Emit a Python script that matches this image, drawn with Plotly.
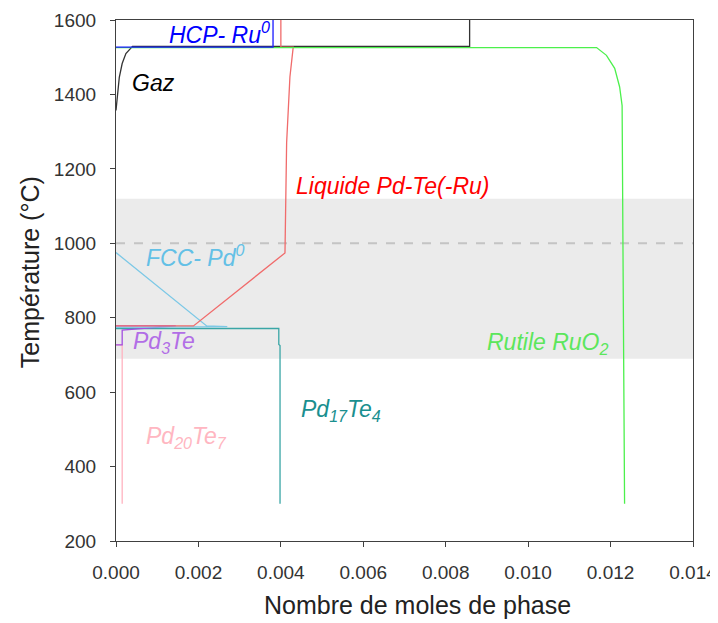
import plotly.graph_objects as go

# Phase amounts (mol) vs temperature (°C)
gaz_x = [0.0, 0.00003, 0.00008, 0.00015, 0.00024, 0.00040, 0.00858, 0.00858]
gaz_t = [1357, 1392, 1446, 1483, 1510, 1529, 1529, 1600]

hcp_x = [0.0, 0.00381, 0.00381]
hcp_t = [1527, 1527, 1600]

liq_x = [0.0, 0.00188, 0.00410, 0.00411, 0.00414, 0.00422, 0.00430, 0.00400, 0.00400]
liq_t = [778, 778, 974, 1100, 1270, 1447, 1527, 1527, 1600]

rut_x = [0.0, 0.01166, 0.01190, 0.01210, 0.01222, 0.01228, 0.01230, 0.01234]
rut_t = [1526, 1526, 1505, 1470, 1420, 1370, 1000, 300]

fcc_x = [0.0, 0.00220, 0.00270, 0.0]
fcc_t = [975, 778, 776, 774]

pd3te_x = [0.0, 0.00145, 0.00015, 0.00015, 0.0]
pd3te_t = [778, 778, 767, 727, 727]

pd17_x = [0.0, 0.00395, 0.00395, 0.00398, 0.00398]
pd17_t = [771, 771, 728, 725, 300]

pd20_x = [0.0, 0.00015, 0.00015]
pd20_t = [727, 727, 300]

x_ticks = [0.0, 0.002, 0.004, 0.006, 0.008, 0.010, 0.012, 0.014]
y_ticks = [200, 400, 600, 800, 1000, 1200, 1400, 1600]
band = [690, 1120]
ref_t = 1000

series = [
    ("Gaz", gaz_x, gaz_t, "#333333"),
    ("Pd20Te7", pd20_x, pd20_t, "#ffb3c0"),
    ("Pd17Te4", pd17_x, pd17_t, "#3aa6a6"),
    ("Pd3Te", pd3te_x, pd3te_t, "#a24fe0"),
    ("FCC", fcc_x, fcc_t, "#7cc8e6"),
    ("Liquide", liq_x, liq_t, "#f06b6b"),
    ("Rutile RuO2", rut_x, rut_t, "#4cf04c"),
    ("HCP", hcp_x, hcp_t, "#1a1aff"),
]

fig = go.Figure()
for name, xs, ts, col in series:
    fig.add_trace(go.Scatter(x=xs, y=ts, mode="lines", name=name,
                             line=dict(color=col, width=1.3), hoverinfo="skip"))

fig.add_shape(type="rect", xref="paper", yref="y", x0=0, x1=1, y0=band[0], y1=band[1],
              fillcolor="#ebebeb", line=dict(width=0), layer="below")
fig.add_shape(type="line", xref="paper", yref="y", x0=0, x1=1, y0=ref_t, y1=ref_t,
              line=dict(color="#c4c4c4", width=2, dash="dash"), layer="below")

font = "Liberation Sans, Arial, sans-serif"
labels = [
    ("<i>HCP- Ru<sup>0</sup></i>", 0.00250, 1566, "#0000ff"),
    ("<i>Gaz</i>", 0.00092, 1432, "#000000"),
    ("<i>Liquide Pd-Te(-Ru)</i>", 0.00670, 1154, "#ff0000"),
    ("<i>FCC- Pd<sup>0</sup></i>", 0.00192, 965, "#63c0e6"),
    ("<i>Pd<sub>3</sub>Te</i>", 0.00117, 733, "#b26ee6"),
    ("<i>Rutile RuO<sub>2</sub></i>", 0.01046, 731, "#5ce65c"),
    ("<i>Pd<sub>17</sub>Te<sub>4</sub></i>", 0.00546, 551, "#1a8f8f"),
    ("<i>Pd<sub>20</sub>Te<sub>7</sub></i>", 0.00172, 479, "#ffb6c1"),
]
for txt, x, y, col in labels:
    fig.add_annotation(x=x, y=y, text=txt, showarrow=False, xanchor="center", yanchor="middle",
                       font=dict(family=font, size=23, color=col))

# axis titles
fig.add_annotation(xref="paper", yref="paper", x=0.5225, y=-0.122, text="Nombre de moles de phase",
                   showarrow=False, xanchor="center", yanchor="middle",
                   font=dict(family=font, size=25, color="#222222"))
fig.add_annotation(xref="paper", yref="paper", x=-0.149, y=0.516, text="Température (°C)",
                   showarrow=False, xanchor="center", yanchor="middle", textangle=-90,
                   font=dict(family=font, size=25, color="#222222"))

axis_common = dict(showgrid=False, zeroline=False, showline=True, linecolor="#404040",
                   linewidth=1.2, mirror=True, ticks="outside", ticklen=5, tickcolor="#404040",
                   automargin=False,
                   tickfont=dict(family=font, size=19, color="#333333"))
fig.update_xaxes(range=[0, 0.014], tickvals=x_ticks, tickformat=".3f", ticklabelstandoff=9,
                 **axis_common)
fig.update_yaxes(range=[200, 1600], tickvals=y_ticks, ticklabelstandoff=10, **axis_common)

# the page adds an 8px body margin, so the figure is 8px smaller and shifted accordingly
fig.update_layout(width=710, height=615, showlegend=False,
                  margin=dict(l=108, r=25, t=12, b=82, autoexpand=False),
                  plot_bgcolor="white", paper_bgcolor="white")

fig.write_html("out.html")
